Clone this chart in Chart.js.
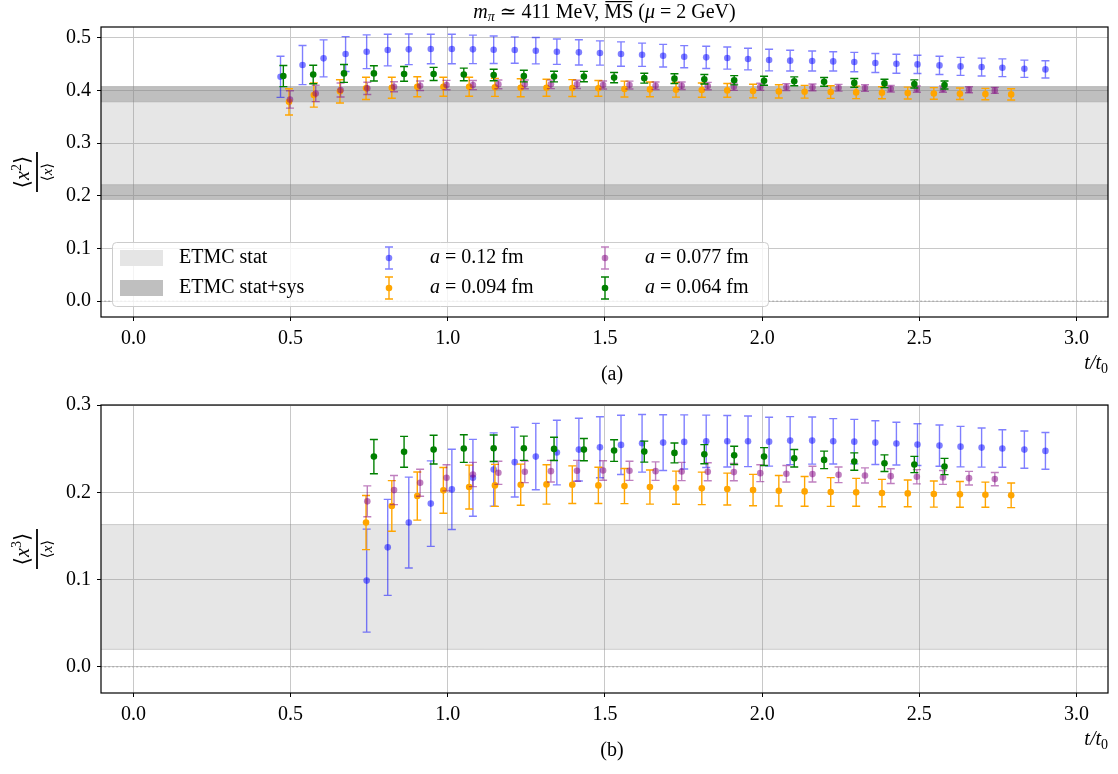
<!DOCTYPE html>
<html>
<head>
<meta charset="utf-8">
<script src="https://cdn.jsdelivr.net/npm/chart.js@4.4.0/dist/chart.umd.min.js"></script>
<style>
  body { margin: 0; background: #fff; }
  .panel { position: absolute; left: 0; width: 1118px; height: 387px; }
</style>
</head>
<body>
<div class="panel" style="top:0"><canvas id="chartA" width="1118" height="387"></canvas></div>
<div class="panel" style="top:387px"><canvas id="chartB" width="1118" height="387"></canvas></div>
<script>
// t/t0 for each lattice spacing
const t012 = [0.468, 0.538, 0.605, 0.675, 0.742, 0.809, 0.876, 0.946, 1.013, 1.080, 1.146, 1.213, 1.280, 1.347, 1.417, 1.484, 1.551, 1.618, 1.685, 1.752, 1.822, 1.889, 1.955, 2.022, 2.089, 2.159, 2.226, 2.293, 2.360, 2.427, 2.494, 2.564, 2.631, 2.698, 2.764, 2.834, 2.901];
const t094 = [0.495, 0.574, 0.657, 0.740, 0.822, 0.903, 0.986, 1.068, 1.150, 1.232, 1.314, 1.396, 1.479, 1.562, 1.643, 1.726, 1.808, 1.889, 1.971, 2.053, 2.135, 2.218, 2.299, 2.381, 2.463, 2.546, 2.629, 2.710, 2.792];
const t077 = [0.498, 0.580, 0.659, 0.744, 0.829, 0.912, 0.996, 1.080, 1.161, 1.245, 1.328, 1.411, 1.494, 1.578, 1.661, 1.744, 1.827, 1.910, 1.994, 2.077, 2.160, 2.243, 2.327, 2.409, 2.492, 2.575, 2.658, 2.740];
const t064 = [0.477, 0.572, 0.670, 0.765, 0.861, 0.955, 1.051, 1.146, 1.242, 1.338, 1.433, 1.529, 1.625, 1.721, 1.816, 1.911, 2.006, 2.102, 2.197, 2.293, 2.389, 2.484, 2.580];

// (a) <x^2>/<x>
const x2_012 = [0.4256, 0.4478, 0.4605, 0.4687, 0.4731, 0.4763, 0.4776, 0.4782, 0.4782, 0.4776, 0.4769, 0.4763, 0.4750, 0.4731, 0.4719, 0.4706, 0.4687, 0.4674, 0.4655, 0.4636, 0.4624, 0.4611, 0.4592, 0.4573, 0.4562, 0.4555, 0.4548, 0.4535, 0.4516, 0.4503, 0.4491, 0.4472, 0.4453, 0.4440, 0.4427, 0.4408, 0.4396];
const x2err_012 = [0.039, 0.037, 0.035, 0.033, 0.032, 0.030, 0.029, 0.028, 0.028, 0.027, 0.026, 0.025, 0.025, 0.024, 0.024, 0.023, 0.023, 0.022, 0.0215, 0.021, 0.021, 0.0209, 0.0205, 0.0205, 0.0196, 0.019, 0.0183, 0.0183, 0.018, 0.018, 0.0174, 0.0174, 0.017, 0.017, 0.0168, 0.0164, 0.0164];
const x2_094 = [0.378, 0.391, 0.398, 0.4036, 0.4048, 0.4067, 0.4067, 0.4067, 0.4055, 0.4048, 0.4048, 0.4042, 0.4036, 0.4023, 0.4017, 0.401, 0.4004, 0.3998, 0.3985, 0.3979, 0.3972, 0.3966, 0.396, 0.3953, 0.3947, 0.394, 0.3934, 0.3928, 0.3922];
const x2err_094 = [0.025, 0.023, 0.022, 0.021, 0.020, 0.019, 0.018, 0.018, 0.017, 0.017, 0.016, 0.016, 0.015, 0.015, 0.014, 0.014, 0.0135, 0.013, 0.013, 0.0125, 0.012, 0.012, 0.0118, 0.0115, 0.0113, 0.011, 0.011, 0.0108, 0.0106];
const x2_077 = [0.3826, 0.394, 0.4004, 0.4036, 0.4067, 0.4086, 0.4099, 0.4099, 0.4112, 0.4112, 0.4112, 0.4112, 0.4099, 0.4099, 0.4086, 0.4086, 0.408, 0.4067, 0.4067, 0.4061, 0.4055, 0.4048, 0.4042, 0.4029, 0.4023, 0.4023, 0.401, 0.3998];
const x2err_077 = [0.0165, 0.0155, 0.0133, 0.0117, 0.0095, 0.009, 0.0088, 0.0086, 0.0084, 0.0082, 0.008, 0.0078, 0.0076, 0.0074, 0.0072, 0.007, 0.0069, 0.0068, 0.0067, 0.0066, 0.0065, 0.0064, 0.0063, 0.0062, 0.0061, 0.006, 0.0058, 0.0057];
const x2_064 = [0.427, 0.430, 0.432, 0.432, 0.431, 0.431, 0.430, 0.429, 0.427, 0.426, 0.426, 0.424, 0.423, 0.422, 0.421, 0.419, 0.418, 0.417, 0.416, 0.414, 0.413, 0.412, 0.410];
const x2err_064 = [0.020, 0.0175, 0.017, 0.0145, 0.014, 0.0125, 0.012, 0.011, 0.011, 0.010, 0.0098, 0.0096, 0.0094, 0.0092, 0.009, 0.0088, 0.0086, 0.0085, 0.0083, 0.0082, 0.008, 0.0078, 0.0076];

// (b) <x^3>/<x>  (starts later on each ensemble)
const x3_012 = [0.0988, 0.1369, 0.1653, 0.1870, 0.2033, 0.2166, 0.2261, 0.2345, 0.2409, 0.2455, 0.2489, 0.2516, 0.2543, 0.2561, 0.2569, 0.2577, 0.2584, 0.2584, 0.2584, 0.2580, 0.2592, 0.2592, 0.2584, 0.2580, 0.2569, 0.2558, 0.2546, 0.2535, 0.2523, 0.2512, 0.2501, 0.2489, 0.2474];
const x3err_012 = [0.059, 0.055, 0.052, 0.049, 0.046, 0.044, 0.042, 0.040, 0.038, 0.037, 0.036, 0.035, 0.034, 0.033, 0.032, 0.031, 0.030, 0.0295, 0.029, 0.028, 0.0275, 0.027, 0.026, 0.0255, 0.025, 0.0245, 0.024, 0.0236, 0.0232, 0.0224, 0.0215, 0.0213, 0.0211];
const x3_094 = [0.1653, 0.1843, 0.1957, 0.2022, 0.2060, 0.2079, 0.2087, 0.2090, 0.2087, 0.2079, 0.2071, 0.2060, 0.2052, 0.2045, 0.2037, 0.2025, 0.2018, 0.2010, 0.2003, 0.1999, 0.1991, 0.1987, 0.1980, 0.1976, 0.1972, 0.1965];
const x3err_094 = [0.031, 0.029, 0.0276, 0.0262, 0.0251, 0.0241, 0.0236, 0.0226, 0.0215, 0.0207, 0.0201, 0.0196, 0.019, 0.0186, 0.0182, 0.018, 0.0175, 0.017, 0.0165, 0.016, 0.0157, 0.0153, 0.015, 0.0147, 0.0144, 0.0141];
const x3_077 = [0.1896, 0.2025, 0.2109, 0.2166, 0.2204, 0.2223, 0.2235, 0.2242, 0.2246, 0.2250, 0.2246, 0.2242, 0.2238, 0.2235, 0.2231, 0.2219, 0.2212, 0.2208, 0.2200, 0.2193, 0.2185, 0.2178, 0.2170, 0.2162, 0.2151];
const x3err_077 = [0.0177, 0.0167, 0.0154, 0.015, 0.0139, 0.0133, 0.0124, 0.0124, 0.012, 0.0112, 0.011, 0.0106, 0.0105, 0.0103, 0.0099, 0.0097, 0.0094, 0.0091, 0.0089, 0.0086, 0.0084, 0.0082, 0.008, 0.0078, 0.0076];
const x3_064 = [0.2409, 0.2463, 0.2489, 0.2501, 0.2504, 0.2504, 0.2497, 0.2489, 0.2478, 0.2466, 0.2451, 0.2436, 0.2423, 0.2409, 0.2390, 0.2371, 0.2352, 0.2333, 0.2318, 0.2295];
const x3err_064 = [0.0196, 0.0177, 0.0165, 0.0158, 0.0152, 0.0139, 0.0133, 0.0127, 0.0124, 0.012, 0.0114, 0.011, 0.0105, 0.0103, 0.010, 0.010, 0.010, 0.0095, 0.0093, 0.0093];

// ETMC bands
const etmcStatA = [0.221, 0.378];
const etmcSysA = [0.193, 0.407];
const etmcStatB = [0.020, 0.163];

const spacings = ["0.12", "0.094", "0.077", "0.064"];
const xTicks = [0, 0.5, 1.0, 1.5, 2.0, 2.5, 3.0];
const yTicksA = [0, 0.1, 0.2, 0.3, 0.4, 0.5];
const yTicksB = [0, 0.1, 0.2, 0.3];

const COLORS = ["rgba(0,0,255,0.5)", "#ffa500", "rgba(128,0,128,0.5)", "#008000"];
const GRID = "#c8c8c8";
const SERIF = "'Liberation Serif', 'DejaVu Serif', serif";
const RM = (s) => s + "px " + SERIF;
const IT = (s) => "italic " + s + "px " + SERIF;
const BR = (s) => s + "px 'DejaVu Serif', serif";

function pts(xs, ys) {
  return ys.map((y, i) => ({ x: xs[i], y: y }));
}

// draw a row of text pieces [text, font, dy, overline]
function drawRuns(ctx, runs, x, y, align) {
  let w = 0;
  runs.forEach((r) => { ctx.font = r[1]; w += ctx.measureText(r[0]).width; });
  let cx = align === "center" ? x - w / 2 : align === "right" ? x - w : x;
  runs.forEach((r) => {
    ctx.font = r[1];
    const rw = ctx.measureText(r[0]).width;
    ctx.fillText(r[0], cx, y + (r[2] || 0));
    if (r[3]) {
      ctx.fillRect(cx + 1, y - 12, rw - 2, 1.2);
    }
    cx += rw;
  });
}

const errorBars = {
  id: "errorBars",
  beforeDatasetDraw(chart, args) {
    const ds = chart.data.datasets[args.index];
    if (!ds.errors) return;
    const ctx = chart.ctx;
    const ys = chart.scales.y;
    const a = chart.chartArea;
    ctx.save();
    ctx.beginPath();
    ctx.rect(a.left, a.top, a.right - a.left, a.bottom - a.top);
    ctx.clip();
    ctx.strokeStyle = ds.backgroundColor;
    ctx.lineWidth = 1.4;
    ctx.beginPath();
    args.meta.data.forEach((p, i) => {
      const v = ds.data[i].y, e = ds.errors[i];
      const top = ys.getPixelForValue(v + e);
      const bot = ys.getPixelForValue(v - e);
      ctx.moveTo(p.x, top); ctx.lineTo(p.x, bot);
      ctx.moveTo(p.x - 4, top); ctx.lineTo(p.x + 4, top);
      ctx.moveTo(p.x - 4, bot); ctx.lineTo(p.x + 4, bot);
    });
    ctx.stroke();
    ctx.restore();
  }
};

// frame, axis labels, title, legend
const decorations = {
  id: "decorations",
  afterDraw(chart, args, opts) {
    const ctx = chart.ctx;
    const a = chart.chartArea;
    ctx.save();
    ctx.strokeStyle = "#000";
    ctx.lineWidth = 1.2;
    ctx.strokeRect(a.left, a.top, a.right - a.left, a.bottom - a.top);

    ctx.fillStyle = "#000";
    ctx.textBaseline = "middle";
    // x label
    drawRuns(ctx, [["t/t", IT(20)], ["0", RM(14), 5]], 1108, a.bottom + 47, "right");
    drawRuns(ctx, [[opts.tag, RM(20)]], 612, a.bottom + 58, "center");

    // y label: fraction, rotated
    ctx.save();
    ctx.translate(37, (a.top + a.bottom) / 2);
    ctx.rotate(-Math.PI / 2);
    ctx.fillRect(-20, -0.9, 40, 1.8);
    drawRuns(ctx, [["\u27E8", BR(21)], ["x", IT(20)], [opts.power, RM(14), -7], ["\u27E9", BR(21)]], 0, -13, "center");
    drawRuns(ctx, [["\u27E8", BR(15)], ["x", IT(15)], ["\u27E9", BR(15)]], 0, 11, "center");
    ctx.restore();

    if (opts.title) {
      drawRuns(ctx, [
        ["m", IT(20)], ["\u03C0", IT(14), 4], [" \u2243 411 MeV, ", RM(20)],
        ["MS", RM(20), 0, true], [" (", RM(20)], ["\u03BC", IT(20)], [" = 2 GeV)", RM(20)]
      ], (a.left + a.right) / 2, 13, "center");
    }

    if (opts.legend) {
      const bx = 112, by = 242, bw = 656, bh = 64;
      ctx.beginPath();
      ctx.roundRect(bx + 0.5, by + 0.5, bw, bh, 4);
      ctx.fillStyle = "rgba(255,255,255,0.8)";
      ctx.fill();
      ctx.strokeStyle = "#cccccc";
      ctx.lineWidth = 1;
      ctx.stroke();

      const rows = [258, 288];
      ctx.fillStyle = "#e5e5e5";
      ctx.fillRect(120, rows[0] - 8, 43, 16);
      ctx.fillStyle = "#bfbfbf";
      ctx.fillRect(120, rows[1] - 8, 43, 16);
      ctx.fillStyle = "#000";
      drawRuns(ctx, [["ETMC stat", RM(20)]], 179, rows[0], "left");
      drawRuns(ctx, [["ETMC stat+sys", RM(20)]], 179, rows[1], "left");

      const cols = [[389, 430], [605, 645]];
      spacings.forEach((s, i) => {
        const c = cols[Math.floor(i / 2)];
        const y = rows[i % 2];
        ctx.strokeStyle = COLORS[i];
        ctx.lineWidth = 1.4;
        ctx.beginPath();
        ctx.moveTo(c[0], y - 11); ctx.lineTo(c[0], y + 11);
        ctx.moveTo(c[0] - 4, y - 11); ctx.lineTo(c[0] + 4, y - 11);
        ctx.moveTo(c[0] - 4, y + 11); ctx.lineTo(c[0] + 4, y + 11);
        ctx.stroke();
        ctx.fillStyle = COLORS[i];
        ctx.beginPath();
        ctx.arc(c[0], y, 3.3, 0, Math.PI * 2);
        ctx.fill();
        ctx.fillStyle = "#000";
        drawRuns(ctx, [["a", IT(20)], [" = " + s + " fm", RM(20)]], c[1], y, "left");
      });
    }
    ctx.restore();
  }
};

function edge(y, fill, color) {
  return {
    type: "line",
    data: [{ x: -0.5, y: y }, { x: 3.5, y: y }],
    borderColor: "rgba(128,128,128,0.35)",
    borderWidth: 1,
    pointRadius: 0,
    fill: fill,
    backgroundColor: color,
    order: 20
  };
}

function series(xs, ys, errs, i) {
  return {
    type: "scatter",
    label: "a = " + spacings[i] + " fm",
    data: pts(xs, ys),
    errors: errs,
    backgroundColor: COLORS[i],
    borderColor: COLORS[i],
    pointRadius: 3.3,
    pointBorderWidth: 0,
    pointHoverRadius: 3.3,
    order: 4 - i
  };
}

function zeroLine() {
  return {
    type: "line",
    data: [{ x: -0.5, y: 0 }, { x: 3.5, y: 0 }],
    borderColor: "#a0a0a0",
    borderWidth: 1,
    borderDash: [2, 2],
    pointRadius: 0,
    fill: false,
    order: 10
  };
}

function axes(yMin, yMax, yTicks, xHeight) {
  const tickFont = { family: SERIF, size: 20 };
  return {
    x: {
      type: "linear", min: -0.103, max: 3.1,
      afterBuildTicks: (s) => { s.ticks = xTicks.map((v) => ({ value: v })); },
      afterFit: (s) => { s.height = xHeight; },
      ticks: { callback: (v) => v.toFixed(1), font: tickFont, color: "#000", padding: 6, maxRotation: 0 },
      grid: { color: GRID, tickColor: "#000", tickLength: 4, lineWidth: 1 },
      border: { display: false }
    },
    y: {
      type: "linear", min: yMin, max: yMax,
      afterBuildTicks: (s) => { s.ticks = yTicks.map((v) => ({ value: v })); },
      afterFit: (s) => { s.width = 101; },
      ticks: { callback: (v) => v.toFixed(1), font: tickFont, color: "#000", padding: 6 },
      grid: { color: GRID, tickColor: "#000", tickLength: 4, lineWidth: 1 },
      border: { display: false }
    }
  };
}

const statLight = "rgba(128,128,128,0.2)";
const sysDark = "rgba(128,128,128,0.5)";

const chartA = new Chart(document.getElementById("chartA"), {
  data: {
    datasets: [
      edge(etmcSysA[0], false, sysDark),
      edge(etmcStatA[0], "-1", sysDark),
      edge(etmcStatA[1], "-1", statLight),
      edge(etmcSysA[1], "-1", sysDark),
      zeroLine(),
      series(t012, x2_012, x2err_012, 0),
      series(t094, x2_094, x2err_094, 1),
      series(t077, x2_077, x2err_077, 2),
      series(t064, x2_064, x2err_064, 3)
    ]
  },
  options: {
    responsive: false,
    animation: false,
    events: [],
    devicePixelRatio: 1,
    layout: { padding: { left: 0, top: 27, right: 10, bottom: 0 } },
    scales: axes(-0.03, 0.52, yTicksA, 70),
    plugins: {
      legend: { display: false },
      tooltip: { enabled: false },
      decorations: { tag: "(a)", power: "2", title: true, legend: true }
    }
  },
  plugins: [errorBars, decorations]
});

const chartB = new Chart(document.getElementById("chartB"), {
  data: {
    datasets: [
      edge(etmcStatB[0], false, statLight),
      edge(etmcStatB[1], "-1", statLight),
      zeroLine(),
      series(t012.slice(4), x3_012, x3err_012, 0),
      series(t094.slice(3), x3_094, x3err_094, 1),
      series(t077.slice(3), x3_077, x3err_077, 2),
      series(t064.slice(3), x3_064, x3err_064, 3)
    ]
  },
  options: {
    responsive: false,
    animation: false,
    events: [],
    devicePixelRatio: 1,
    layout: { padding: { left: 0, top: 17, right: 10, bottom: 0 } },
    scales: axes(-0.03, 0.3, yTicksB, 81),
    plugins: {
      legend: { display: false },
      tooltip: { enabled: false },
      decorations: { tag: "(b)", power: "3", title: false, legend: false }
    }
  },
  plugins: [errorBars, decorations]
});
</script>
</body>
</html>
